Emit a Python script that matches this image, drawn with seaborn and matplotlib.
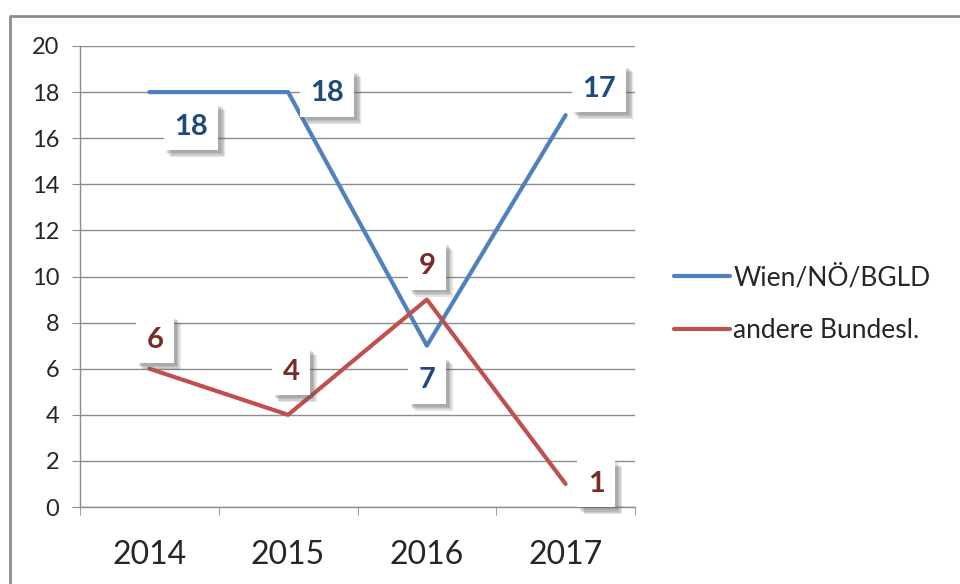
import pandas as pd
import seaborn as sns
import matplotlib.pyplot as plt
import matplotlib.patheffects as pe
from matplotlib.lines import Line2D

years = ['2014', '2015', '2016', '2017']
wien = [18, 18, 7, 17]
andere = [6, 4, 9, 1]
series_names = ['Wien/NÖ/BGLD', 'andere Bundesl.']

# label offsets (points) for each data label
wien_offsets = [(30, -25), (28, -1), (0, -25), (24, 19)]
andere_offsets = [(4, 21), (2, 31), (0, 24), (22, 0)]

df = pd.DataFrame({
    'pos': list(range(len(years))) * 2,
    'value': wien + andere,
    'series': [series_names[0]] * len(years) + [series_names[1]] * len(years),
})

sns.set_style('white')
plt.rcParams['font.family'] = ['Lato', 'DejaVu Sans']

fig = plt.figure(figsize=(9.6, 5.84), dpi=100)
ax = fig.add_axes([80 / 960, 1 - 507 / 584, 555 / 960, 461 / 584])

palette = {series_names[0]: '#4F81BD', series_names[1]: '#C0504D'}
sns.lineplot(data=df, x='pos', y='value', hue='series', palette=palette,
             linewidth=3, ax=ax, legend=False, zorder=3)

ax.set_xlim(-0.5, len(years) - 0.5)
ax.set_ylim(0, 20)
ax.set_yticks(range(0, 21, 2))
ax.set_xticks(range(len(years)))
ax.set_xticklabels(years)
ax.set_xticks([i - 0.5 for i in range(len(years) + 1)], minor=True)
ax.set_xlabel('')
ax.set_ylabel('')
ax.grid(axis='y', color='#8c8c8c', linewidth=1)
ax.set_axisbelow(True)
for s in ['top', 'right']:
    ax.spines[s].set_visible(False)
for s in ['left', 'bottom']:
    ax.spines[s].set_color('#8c8c8c')
    ax.spines[s].set_linewidth(1)
ax.tick_params(axis='y', which='major', length=6, color='#8c8c8c', direction='out',
               labelsize=17, pad=9, left=True)
ax.tick_params(axis='x', which='major', length=0, labelsize=23, pad=24)
ax.tick_params(axis='x', which='minor', length=6, color='#8c8c8c', direction='out', bottom=True)

# soft drop shadow built from a few offset layers
shadow = [pe.SimplePatchShadow(offset=(d, -d), shadow_rgbFace='#606060', alpha=0.17)
          for d in (5, 4, 3, 2)] + [pe.Normal()]


def add_labels(values, offsets, color):
    for i, (v, off) in enumerate(zip(values, offsets)):
        t = ax.annotate(str(v), xy=(i, v), xytext=off, textcoords='offset points',
                        ha='center', va='center', fontsize=21, fontweight='bold',
                        color=color, zorder=5,
                        bbox=dict(boxstyle='square,pad=0.36', fc='white', ec='none'))
        t.get_bbox_patch().set_path_effects(shadow)


add_labels(wien, wien_offsets, '#1F497D')
add_labels(andere, andere_offsets, '#772C2A')

handles = [Line2D([0], [0], color=palette[n], linewidth=3) for n in series_names]
fig.legend(handles, series_names, loc='center left', bbox_to_anchor=(650 / 960, 1 - 304 / 584),
           frameon=False, fontsize=19, handlelength=2.15, handletextpad=0.1,
           labelspacing=1.05)

# chart frame (top and left edges visible)
fig.add_artist(Line2D([10 / 960, 10 / 960, 1], [0, 1 - 16 / 584, 1 - 16 / 584],
                      transform=fig.transFigure, color='#8c8c8c', linewidth=2))

fig.savefig('out.png', dpi=100)
